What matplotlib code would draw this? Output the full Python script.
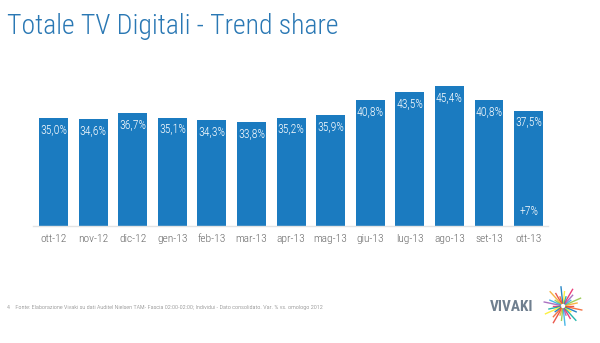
import matplotlib
matplotlib.use("Agg")
import matplotlib.pyplot as plt
import numpy as np

# Share mensile Totale TV Digitali (%), ott-12 .. ott-13
months = ["ott-12", "nov-12", "dic-12", "gen-13", "feb-13", "mar-13", "apr-13",
          "mag-13", "giu-13", "lug-13", "ago-13", "set-13", "ott-13"]
share = [35.0, 34.6, 36.7, 35.1, 34.3, 33.8, 35.2, 35.9, 40.8, 43.5, 45.4, 40.8, 37.5]
yoy_label = "+7%"

BAR_COLOR = "#1b7bc0"
TITLE_COLOR = "#2a78b4"
FONT = ["Roboto Condensed", "DejaVu Sans"]

fig = plt.figure(figsize=(6.0, 3.43), dpi=100)
fig.patch.set_facecolor("white")

fig.text(7 / 600, 1 - 34 / 343, "Totale TV Digitali - Trend share", family=FONT,
         fontsize=20, fontweight="light", color=TITLE_COLOR, va="baseline", ha="left")

ax = fig.add_axes([33 / 600, 117 / 343, 515 / 600, 154 / 343])
x = np.arange(len(months))
bars = ax.bar(x, share, width=0.73, color=BAR_COLOR, zorder=2)
ax.set_xlim(-0.52, 12.49)
ax.set_ylim(0, 50)

for rect, val in zip(bars, share):
    ax.annotate(f"{val:.1f}%".replace(".", ","),
                (rect.get_x() + rect.get_width() / 2, val),
                xytext=(0, -3.5), textcoords="offset points",
                ha="center", va="top", color="white", fontsize=8.5,
                fontweight="light", family=FONT)

ax.annotate(yoy_label, (x[-1], 0), xytext=(0, 6), textcoords="offset points",
            ha="center", va="bottom", color="white", fontsize=8.5,
            fontweight="light", family=FONT)

for side in ("top", "right", "left"):
    ax.spines[side].set_visible(False)
ax.spines["bottom"].set_color("#e3e3e3")
ax.spines["bottom"].set_linewidth(1.0)
ax.set_yticks([])
ax.set_xticks(x)
ax.set_xticklabels(months, family=FONT, fontsize=8.2, fontweight="light", color="#666666")
ax.tick_params(axis="x", length=0, pad=6)

fig.text(7 / 600, 1 - 307 / 343,
         "4    Fonte: Elaborazione Vivaki su dati Auditel Nielsen TAM- Fascia 02:00-02:00; "
         "Individui - Dato consolidato. Var. % vs. omologo 2012",
         family=FONT, fontsize=4.4, fontweight="light", color="#777777", va="center", ha="left")

# logo
fig.text(512 / 600, 1 - 307 / 343, "VIVAKI", family=FONT, fontsize=11,
         fontweight="bold", color="#6f7f8f", va="center", ha="center")
logo_colors = ["#e63b2e", "#f6a623", "#8cc63f", "#29abe2", "#9b59b6", "#e91e63",
               "#00a99d", "#fcee21", "#0071bc", "#f15a24"]
cx, cy = 563 / 600, 1 - 306 / 343
for k, ang in enumerate(np.linspace(0, 2 * np.pi, 30, endpoint=False)):
    r = 0.016 + 0.008 * (k % 3)
    fig.add_artist(plt.Line2D([cx + 0.005 * np.cos(ang), cx + r * np.cos(ang)],
                              [cy + 0.009 * np.sin(ang), cy + 1.75 * r * np.sin(ang)],
                              color=logo_colors[k % len(logo_colors)], lw=1.0, alpha=0.85))

fig.savefig("out.png", dpi=100, facecolor="white")
